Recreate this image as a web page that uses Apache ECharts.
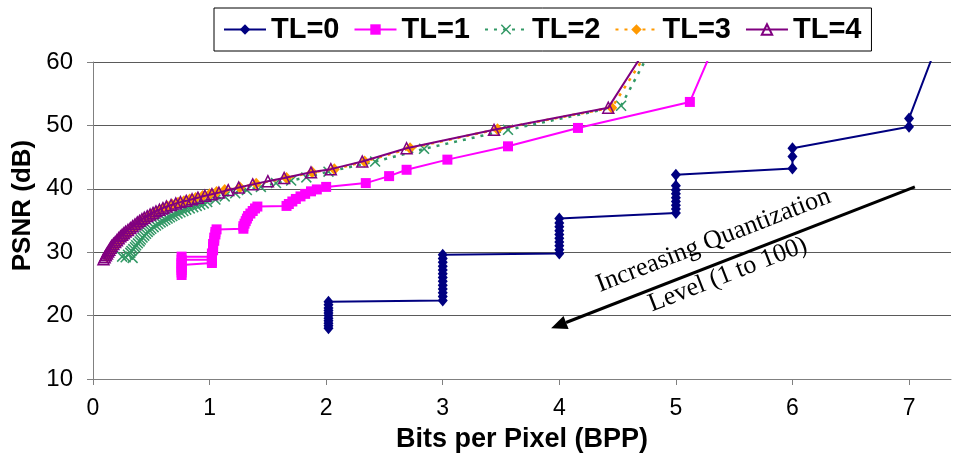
<!DOCTYPE html>
<html>
<head>
<meta charset="utf-8">
<title>PSNR vs BPP</title>
<script src="https://cdn.jsdelivr.net/npm/echarts@6/dist/echarts.min.js"></script>
<style>
  html, body { margin: 0; padding: 0; background: #fff; }
  #chart { width: 954px; height: 459px; }
</style>
</head>
<body>
<div id="chart"></div>
<script>
// Rate-distortion points [bits per pixel, PSNR dB], one array per temporal level
const seriesNames = ['TL=0', 'TL=1', 'TL=2', 'TL=3', 'TL=4'];

const tl0 = [
  [2.02, 18.0], [2.02, 18.4], [2.02, 18.8], [2.02, 19.2], [2.02, 19.6], [2.02, 20.0],
  [2.02, 20.4], [2.02, 20.8], [2.02, 21.2], [2.02, 21.7], [2.02, 22.2],
  [3.0, 22.4], [3.0, 23.0], [3.0, 23.6], [3.0, 24.2], [3.0, 24.8], [3.0, 25.4], [3.0, 26.0],
  [3.0, 26.6], [3.0, 27.2], [3.0, 27.8], [3.0, 28.4], [3.0, 29.0], [3.0, 29.6],
  [4.0, 29.8], [4.0, 30.4], [4.0, 31.0], [4.0, 31.6], [4.0, 32.2], [4.0, 32.8], [4.0, 33.4],
  [4.0, 34.0], [4.0, 34.6], [4.0, 35.3],
  [5.0, 36.2], [5.0, 36.8], [5.0, 37.4], [5.0, 38.0], [5.0, 38.6], [5.0, 39.2], [5.0, 39.8],
  [5.0, 40.5], [5.0, 42.2],
  [6.0, 43.2], [6.0, 45.1], [6.0, 46.4],
  [7.0, 49.8], [7.0, 51.1], [7.4, 70.5]
];

const tl1 = [
  [0.76, 26.4], [0.76, 26.8], [0.76, 27.2], [0.76, 27.6], [0.76, 28.0], [0.76, 28.3],
  [1.02, 28.3], [1.02, 28.6], [1.02, 28.8], [0.76, 28.8], [0.76, 29.3], [1.02, 29.3],
  [1.02, 29.8], [1.03, 30.3], [1.03, 30.8], [1.03, 31.3], [1.04, 31.8], [1.04, 32.3],
  [1.05, 32.8], [1.05, 33.2], [1.06, 33.6],
  [1.29, 33.7], [1.29, 34.1], [1.30, 34.5], [1.31, 34.9], [1.32, 35.3], [1.33, 35.7],
  [1.35, 36.1], [1.37, 36.5], [1.39, 36.9], [1.41, 37.2],
  [1.66, 37.3], [1.68, 37.6], [1.71, 38.0], [1.74, 38.4], [1.78, 38.8], [1.82, 39.2],
  [1.87, 39.6], [1.92, 39.9], [2.00, 40.3],
  [2.34, 40.9], [2.54, 42.0], [2.69, 43.0], [3.04, 44.6], [3.56, 46.7], [4.16, 49.6],
  [5.12, 53.7], [5.40, 65.7]
];

const tl2 = [
  [0.34, 29.1], [0.25, 29.3], [0.28, 29.2], [0.30, 29.6], [0.32, 29.9], [0.33, 30.2],
  [0.345, 30.5], [0.36, 30.8], [0.37, 31.1], [0.385, 31.4], [0.40, 31.7], [0.41, 32.0],
  [0.425, 32.3], [0.44, 32.6], [0.455, 32.9], [0.47, 33.2], [0.485, 33.45], [0.50, 33.7],
  [0.52, 33.95], [0.54, 34.2], [0.56, 34.45], [0.58, 34.7], [0.60, 34.9], [0.62, 35.1],
  [0.64, 35.3], [0.66, 35.5], [0.68, 35.7], [0.70, 35.9], [0.725, 36.1], [0.75, 36.3],
  [0.775, 36.5], [0.80, 36.7], [0.83, 36.9], [0.86, 37.1], [0.89, 37.3], [0.92, 37.5],
  [0.95, 37.7], [0.98, 37.9], [1.05, 38.3], [1.13, 38.8], [1.22, 39.3], [1.32, 39.8],
  [1.44, 40.3], [1.57, 40.9], [1.70, 41.3], [1.83, 41.8], [2.02, 42.7],
  [2.42, 44.3], [2.84, 46.3], [3.56, 49.3], [4.53, 53.1], [4.95, 67.6]
];

const tl3 = [
  [0.12, 29.3], [0.13, 29.6], [0.14, 29.9], [0.15, 30.2], [0.165, 30.5], [0.18, 30.8],
  [0.195, 31.1], [0.21, 31.4], [0.225, 31.7], [0.24, 32.0], [0.255, 32.3], [0.27, 32.6],
  [0.29, 32.95], [0.31, 33.3], [0.33, 33.6], [0.35, 33.9], [0.37, 34.2], [0.39, 34.5],
  [0.41, 34.8], [0.435, 35.1], [0.46, 35.4], [0.485, 35.7], [0.51, 36.0], [0.54, 36.3],
  [0.57, 36.6], [0.60, 36.9], [0.64, 37.2], [0.68, 37.5], [0.73, 37.8], [0.78, 38.05],
  [0.83, 38.3], [0.88, 38.55], [0.94, 38.85], [1.00, 39.15], [1.06, 39.5], [1.13, 39.8],
  [1.26, 40.2], [1.40, 40.8], [1.66, 41.7], [1.88, 42.6], [2.07, 43.1], [2.33, 44.3],
  [2.72, 46.4], [3.47, 49.4], [4.45, 52.8], [5.0, 68.6]
];

const tl4 = [
  [0.09, 28.9], [0.10, 29.2], [0.11, 29.5], [0.12, 29.8], [0.13, 30.1], [0.14, 30.4],
  [0.15, 30.7], [0.16, 31.0], [0.175, 31.3], [0.19, 31.6], [0.205, 31.9], [0.22, 32.2],
  [0.235, 32.5], [0.25, 32.75], [0.265, 33.0], [0.28, 33.25], [0.30, 33.5], [0.32, 33.8],
  [0.34, 34.1], [0.36, 34.4], [0.38, 34.7], [0.40, 34.95], [0.42, 35.2], [0.44, 35.45],
  [0.465, 35.7], [0.49, 35.95], [0.515, 36.2], [0.54, 36.45], [0.57, 36.7], [0.60, 36.95],
  [0.63, 37.2], [0.67, 37.45], [0.71, 37.7], [0.75, 37.9], [0.80, 38.1], [0.85, 38.35],
  [0.90, 38.6], [0.96, 38.9], [1.02, 39.15], [1.08, 39.4], [1.16, 39.8], [1.25, 40.2],
  [1.37, 40.7], [1.50, 41.2], [1.64, 41.7], [1.87, 42.6], [2.04, 43.1], [2.31, 44.3],
  [2.69, 46.4], [3.44, 49.3], [4.42, 52.8], [4.95, 68.0]
];

const xTicks = [0, 1, 2, 3, 4, 5, 6, 7];
const yTicks = [10, 20, 30, 40, 50, 60];

// Annotation arrow, in data coordinates (tail -> head)
const arrowTail = [7.05, 40.3];
const arrowHead = [3.93, 18.0];
const noteLines = ['Increasing Quantization', 'Level (1 to 100)'];

const SANS = '"Liberation Sans", Arial, Helvetica, sans-serif';
const SERIF = '"Liberation Serif", "Times New Roman", serif';

const crossPath = 'path://M1,0L5,4L9,0L10,1L6,5L10,9L9,10L5,6L1,10L0,9L4,5L0,1Z';

const styles = [
  { data: tl0, color: '#000080', symbol: 'diamond', size: [10, 12], line: { width: 2, type: 'solid' } },
  { data: tl1, color: '#FF00FF', symbol: 'rect', size: 10, line: { width: 2, type: 'solid' } },
  { data: tl2, color: '#339966', symbol: crossPath, size: 11, line: { width: 2.5, type: [3, 6] } },
  { data: tl3, color: '#FF9900', symbol: 'diamond', size: [11, 12], line: { width: 2.5, type: [3, 6] } },
  { data: tl4, color: '#800080', symbol: 'triangle', size: 11, line: { width: 2, type: 'solid' }, hollow: true }
];

const chart = echarts.init(document.getElementById('chart'), null, { renderer: 'canvas' });

const series = styles.map((s, i) => ({
  name: seriesNames[i],
  type: 'line',
  data: s.data,
  symbol: s.symbol,
  symbolSize: s.size,
  clip: true,
  lineStyle: { color: s.color, width: s.line.width, type: s.line.type },
  itemStyle: s.hollow
    ? { color: 'rgba(255,255,255,0)', borderColor: s.color, borderWidth: 1.5 }
    : { color: s.color, borderWidth: 0 },
  emphasis: { disabled: true },
  z: 2 + i
}));

chart.setOption({
  animation: false,
  backgroundColor: '#ffffff',
  grid: { left: 93, right: 3, top: 62, bottom: 80, containLabel: false },
  legend: {
    data: seriesNames,
    left: 214,
    top: 8,
    padding: [7, 10, 7, 9],
    itemGap: 14,
    itemWidth: 42,
    itemHeight: 13,
    backgroundColor: '#fff',
    borderColor: '#000',
    borderWidth: 1,
    textStyle: { fontFamily: SANS, fontSize: 29, fontWeight: 'bold', color: '#000' }
  },
  xAxis: {
    type: 'value',
    min: 0,
    max: 7.36,
    interval: 1,
    name: 'Bits per Pixel (BPP)',
    nameLocation: 'middle',
    nameGap: 47,
    nameTextStyle: { fontFamily: SANS, fontSize: 27, fontWeight: 'bold', color: '#000' },
    axisLine: { show: true, onZero: false, lineStyle: { color: '#808080', width: 1 } },
    axisTick: { show: true, length: 6, customValues: xTicks, lineStyle: { color: '#808080' } },
    axisLabel: { customValues: xTicks, margin: 18, fontFamily: SANS, fontSize: 23, color: '#000' },
    splitLine: { show: false }
  },
  yAxis: {
    type: 'value',
    min: 10,
    max: 60,
    interval: 10,
    name: 'PSNR (dB)',
    nameLocation: 'middle',
    nameGap: 56,
    nameTextStyle: { fontFamily: SANS, fontSize: 26, fontWeight: 'bold', color: '#000', padding: [0, 0, 0, 30] },
    axisLine: { show: true, lineStyle: { color: '#808080', width: 1 } },
    axisTick: { show: true, length: 6, lineStyle: { color: '#808080' } },
    axisLabel: { margin: 20, fontFamily: SANS, fontSize: 24, color: '#000',
      formatter: v => (yTicks.indexOf(v) >= 0 ? String(v) : '') },
    splitLine: { show: true, lineStyle: { color: '#5a5a5a', width: 1 } }
  },
  series: series
});

// Arrow and rotated caption placed through the axes
const p0 = chart.convertToPixel({ gridIndex: 0 }, arrowTail);
const p1 = chart.convertToPixel({ gridIndex: 0 }, arrowHead);
const dx = p1[0] - p0[0], dy = p1[1] - p0[1];
const len = Math.hypot(dx, dy);
const ux = dx / len, uy = dy / len;          // toward the head
const vx = -ux, vy = -uy;                     // reading direction of caption
const nx = vy, ny = -vx;                      // normal pointing up-left
const headLen = 16, headHalf = 7;
const baseX = p1[0] - ux * headLen, baseY = p1[1] - uy * headLen;
const midX = (p0[0] + p1[0]) / 2, midY = (p0[1] + p1[1]) / 2;
const angle = Math.atan2(-vy, vx);

const captionOffsets = [[-12, 23], [-11, -14]];

chart.setOption({
  graphic: [
    {
      type: 'line',
      shape: { x1: p0[0], y1: p0[1], x2: baseX, y2: baseY },
      style: { stroke: '#000', lineWidth: 3 },
      z: 100
    },
    {
      type: 'polygon',
      shape: { points: [
        [p1[0], p1[1]],
        [baseX + nx * headHalf, baseY + ny * headHalf],
        [baseX - nx * headHalf, baseY - ny * headHalf]
      ] },
      style: { fill: '#000' },
      z: 100
    }
  ].concat(noteLines.map((t, i) => ({
    type: 'text',
    x: midX + vx * captionOffsets[i][0] + nx * captionOffsets[i][1],
    y: midY + vy * captionOffsets[i][0] + ny * captionOffsets[i][1],
    rotation: angle,
    style: {
      text: t,
      fill: '#000',
      font: '26px ' + SERIF,
      align: 'center',
      verticalAlign: 'middle',
      textAlign: 'center',
      textVerticalAlign: 'middle'
    },
    z: 100
  })))
});
</script>
</body>
</html>
